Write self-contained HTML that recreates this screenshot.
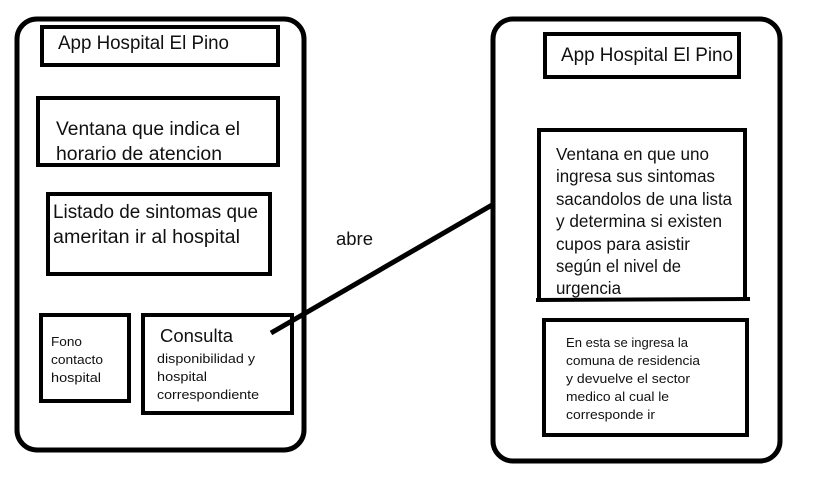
<!DOCTYPE html>
<html><head><meta charset="utf-8"><style>
html,body{margin:0;padding:0;background:#fff;}
svg{display:block;}
text{font-family:"Liberation Sans",sans-serif;fill:#111;}
</style></head><body>
<svg width="818" height="485" viewBox="0 0 818 485" xmlns="http://www.w3.org/2000/svg">
<g fill="none" stroke="#000">
<rect x="17" y="19" width="287" height="431" rx="20" stroke-width="5"/>
<rect x="42" y="27" width="236" height="38" stroke-width="4"/>
<rect x="38" y="98" width="240" height="67" stroke-width="4"/>
<rect x="48" y="194" width="222" height="80" stroke-width="4"/>
<rect x="41" y="315" width="88" height="86" stroke-width="4"/>
<rect x="143" y="315" width="149" height="98" stroke-width="4"/>
<rect x="493" y="19" width="287" height="442" rx="20" stroke-width="5"/>
<rect x="545" y="34" width="194" height="43" stroke-width="4"/>
<path d="M539 298 V130 H745 V297" stroke-width="4"/>
<line x1="536" y1="300" x2="750" y2="299" stroke-width="4"/>
<rect x="544" y="320" width="203" height="115" stroke-width="4"/>
<line x1="271" y1="333" x2="492" y2="205" stroke-width="5"/>
</g>
<g lengthAdjust="spacingAndGlyphs">
<text x="58" y="49" font-size="19" textLength="171" lengthAdjust="spacingAndGlyphs">App Hospital El Pino</text>
<text x="56" y="135" font-size="19" textLength="184" lengthAdjust="spacingAndGlyphs">Ventana que indica el</text>
<text x="56" y="160" font-size="19" textLength="166" lengthAdjust="spacingAndGlyphs">horario de atencion</text>
<text x="53" y="218" font-size="19" textLength="205" lengthAdjust="spacingAndGlyphs">Listado de sintomas que</text>
<text x="53" y="243" font-size="19" textLength="187" lengthAdjust="spacingAndGlyphs">ameritan ir al hospital</text>
<text x="51" y="346" font-size="13" textLength="31" lengthAdjust="spacingAndGlyphs">Fono</text>
<text x="51" y="364" font-size="13" textLength="52" lengthAdjust="spacingAndGlyphs">contacto</text>
<text x="51" y="382" font-size="13" textLength="50" lengthAdjust="spacingAndGlyphs">hospital</text>
<text x="160" y="342" font-size="18" textLength="73" lengthAdjust="spacingAndGlyphs">Consulta</text>
<text x="157" y="363" font-size="13" textLength="98" lengthAdjust="spacingAndGlyphs">disponibilidad y</text>
<text x="157" y="381" font-size="13" textLength="50" lengthAdjust="spacingAndGlyphs">hospital</text>
<text x="157" y="399" font-size="13" textLength="102" lengthAdjust="spacingAndGlyphs">correspondiente</text>
<text x="336" y="245" font-size="18" textLength="37" lengthAdjust="spacingAndGlyphs">abre</text>
<text x="561" y="61" font-size="19" textLength="172" lengthAdjust="spacingAndGlyphs">App Hospital El Pino</text>
<g font-size="17.5">
<text x="556" y="160" textLength="153" lengthAdjust="spacingAndGlyphs">Ventana en que uno</text>
<text x="556" y="182" textLength="159" lengthAdjust="spacingAndGlyphs">ingresa sus sintomas</text>
<text x="556" y="205" textLength="176" lengthAdjust="spacingAndGlyphs">sacandolos de una lista</text>
<text x="556" y="227" textLength="166" lengthAdjust="spacingAndGlyphs">y determina si existen</text>
<text x="556" y="250" textLength="134" lengthAdjust="spacingAndGlyphs">cupos para asistir</text>
<text x="556" y="272" textLength="125" lengthAdjust="spacingAndGlyphs">según el nivel de</text>
<text x="556" y="294" textLength="65" lengthAdjust="spacingAndGlyphs">urgencia</text>
</g>
<g font-size="13">
<text x="566" y="347" textLength="122" lengthAdjust="spacingAndGlyphs">En esta se ingresa la</text>
<text x="566" y="365" textLength="134" lengthAdjust="spacingAndGlyphs">comuna de residencia</text>
<text x="566" y="383" textLength="124" lengthAdjust="spacingAndGlyphs">y devuelve el sector</text>
<text x="566" y="401" textLength="103" lengthAdjust="spacingAndGlyphs">medico al cual le</text>
<text x="566" y="419" textLength="89" lengthAdjust="spacingAndGlyphs">corresponde ir</text>
</g>
</g>
</svg>
</body></html>
